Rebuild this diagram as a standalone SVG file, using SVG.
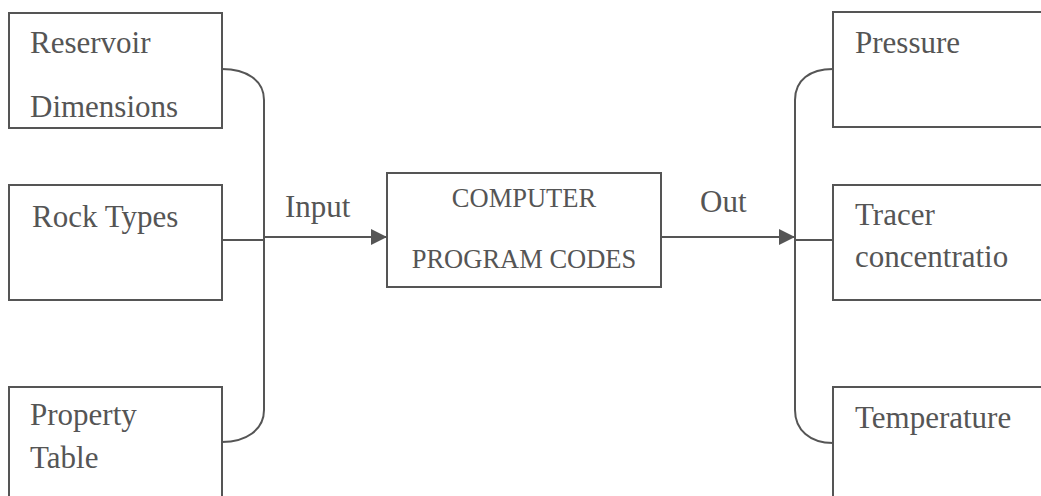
<svg xmlns="http://www.w3.org/2000/svg" width="1041" height="496" viewBox="0 0 1041 496">
<style>
.box{fill:none;stroke:#555;stroke-width:2}
.ln{fill:none;stroke:#555;stroke-width:2}
.t{font-family:"Liberation Serif",serif;font-size:31px;fill:#555}
.tc{font-family:"Liberation Serif",serif;font-size:26.5px;fill:#555;text-anchor:middle}
</style>
<defs>
<marker id="ah" viewBox="0 0 16 16" refX="16" refY="8" markerWidth="16" markerHeight="16" markerUnits="userSpaceOnUse" orient="auto">
<path d="M0,0 L16,8 L0,16 Z" fill="#555"/>
</marker>
</defs>
<rect width="1041" height="496" fill="#fff"/>
<g id="reservoir"><rect class="box" x="9" y="13" width="213" height="115"/><text class="t" x="30" y="53">Reservoir</text><text class="t" x="30" y="117">Dimensions</text></g>
<g id="rock"><rect class="box" x="9" y="185" width="213" height="115"/><text class="t" x="32" y="227">Rock Types</text></g>
<g id="property"><rect class="box" x="9" y="387" width="213" height="120"/><text class="t" x="30" y="425">Property</text><text class="t" x="30" y="468">Table</text></g>
<g id="computer"><rect class="box" x="387" y="173" width="274" height="114"/><text class="tc" x="524" y="207">COMPUTER</text><text class="tc" x="524" y="268">PROGRAM CODES</text></g>
<g id="pressure"><rect class="box" x="833" y="12" width="220" height="115"/><text class="t" x="855" y="53">Pressure</text></g>
<g id="tracer"><rect class="box" x="833" y="185" width="220" height="115"/><text class="t" x="855" y="225">Tracer</text><text class="t" x="855" y="267">concentratio</text></g>
<g id="temperature"><rect class="box" x="833" y="387" width="220" height="120"/><text class="t" x="855" y="428">Temperature</text></g>
<g id="connectors">
<path class="ln" d="M222,69 C246,69 264,80 264,100 L264,410 C264,430 246,442 222,442"/>
<path class="ln" d="M222,240 L264,240"/>
<path class="ln" d="M264,237 L387,237" marker-end="url(#ah)"/>
<text class="t" x="285" y="217">Input</text>
<path class="ln" d="M661,237 L795,237" marker-end="url(#ah)"/>
<text class="t" x="700" y="212">Out</text>
<path class="ln" d="M833,69 C810,69 795,80 795,100 L795,410 C795,430 810,443 833,443"/>
<path class="ln" d="M795,240 L833,240"/>
</g>
</svg>
